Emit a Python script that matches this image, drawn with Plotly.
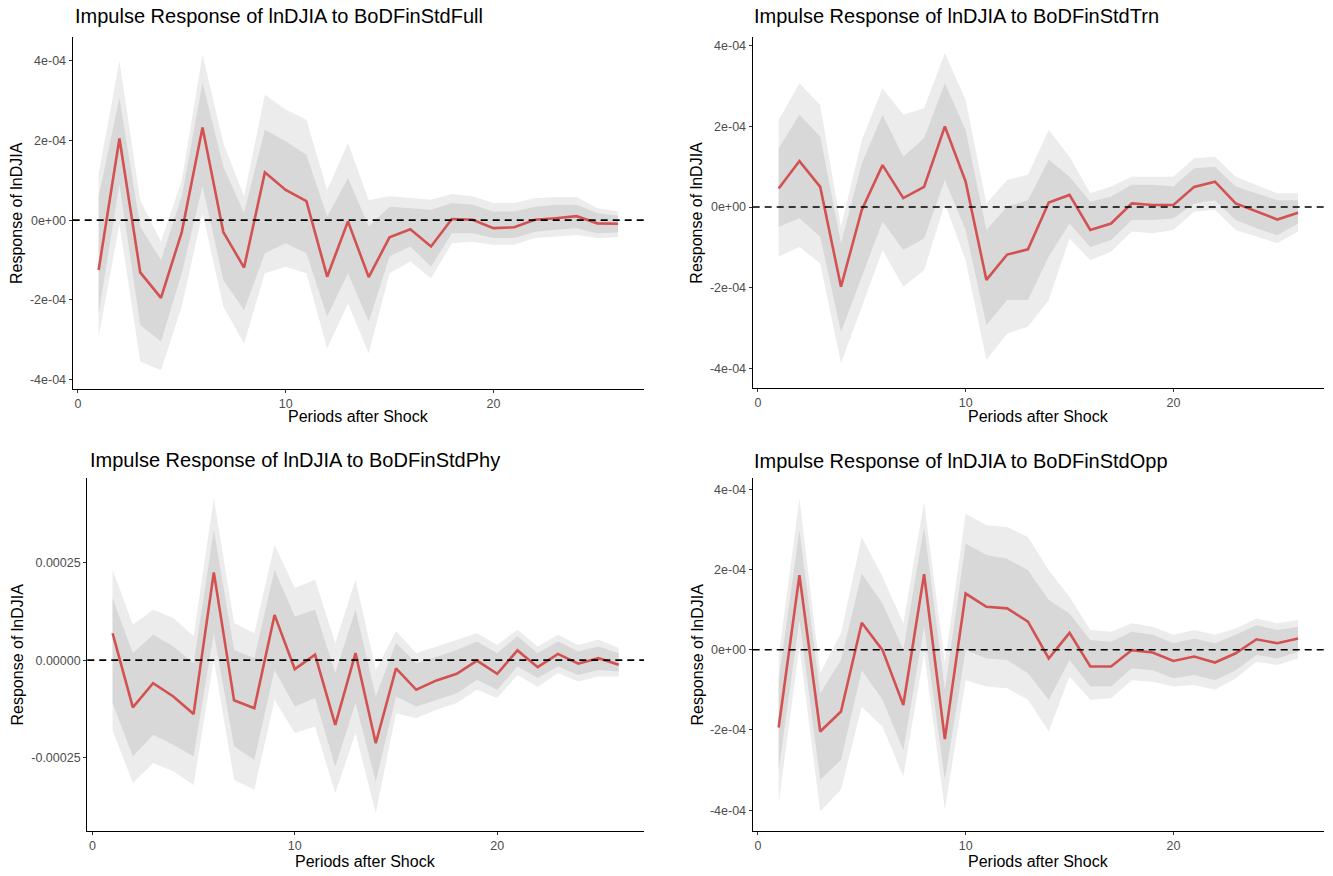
import plotly.graph_objects as go

# ---------------- data (response values in units of 1e-4) ----------------
periods = list(range(1, 27))

full_irf = [-1.25, 2.05, -1.31, -1.95, -0.3, 2.33, -0.3, -1.19, 1.2, 0.76, 0.48, -1.42, -0.03,
            -1.43, -0.43, -0.23, -0.66, 0.03, 0.01, -0.2, -0.18, 0.01, 0.05, 0.1, -0.08, -0.09]
full_dark_lo = [-2.34, 0.9, -2.63, -3.05, -1.33, 0.85, -1.5, -2.26, -0.83, -0.58, -0.83, -2.42, -1.33,
                -2.55, -0.91, -0.66, -1.17, -0.33, -0.33, -0.45, -0.45, -0.29, -0.24, -0.2, -0.33, -0.31]
full_dark_hi = [0.6, 3.07, -0.16, -1.0, 0.6, 3.45, 1.35, 0.18, 2.27, 1.98, 1.64, 0.09, 1.06,
                -0.16, 0.34, 0.3, 0.26, 0.43, 0.39, 0.22, 0.22, 0.34, 0.39, 0.39, 0.18, 0.11]
full_light_lo = [-2.93, -0.1, -3.55, -3.77, -2.17, 0.18, -2.17, -3.1, -1.33, -1.17, -1.33, -3.22, -2.09,
                 -3.35, -1.33, -1.04, -1.46, -0.58, -0.54, -0.62, -0.62, -0.45, -0.41, -0.37, -0.45, -0.43]
full_light_hi = [1.18, 4.0, 0.5, -0.54, 1.0, 4.16, 1.94, 0.6, 3.15, 2.78, 2.52, 0.76, 1.94,
                 0.5, 0.6, 0.55, 0.51, 0.66, 0.6, 0.43, 0.43, 0.55, 0.58, 0.58, 0.3, 0.22]

trn_irf = [0.46, 1.14, 0.5, -1.98, -0.07, 1.04, 0.22, 0.5, 2.0, 0.63, -1.81, -1.18, -1.05,
           0.11, 0.3, -0.57, -0.41, 0.09, 0.05, 0.05, 0.5, 0.63, 0.09, -0.12, -0.31, -0.14]
trn_dark_lo = [-0.49, -0.28, -0.74, -3.1, -1.73, -0.36, -1.07, -0.78, 0.67, -0.57, -2.93, -2.31, -2.31,
               -1.23, -0.41, -0.99, -0.82, -0.32, -0.32, -0.28, 0.09, 0.17, -0.32, -0.53, -0.7, -0.41]
trn_dark_hi = [1.46, 2.29, 1.75, -0.9, 1.08, 2.29, 1.25, 1.71, 3.07, 1.91, -0.57, 0.01, 0.17,
               1.17, 0.75, 0.13, 0.26, 0.55, 0.55, 0.51, 0.96, 1.0, 0.51, 0.34, 0.17, 0.17]
trn_light_lo = [-1.23, -0.99, -1.4, -3.88, -2.48, -1.07, -1.98, -1.57, 0.09, -1.32, -3.8, -3.14, -2.97,
                -2.31, -0.78, -1.32, -1.11, -0.61, -0.65, -0.57, -0.12, -0.07, -0.57, -0.74, -0.9, -0.61]
trn_light_hi = [2.16, 3.07, 2.53, -0.49, 1.66, 2.95, 2.29, 2.45, 3.82, 2.66, 0.09, 0.67, 0.8,
                1.91, 1.25, 0.34, 0.51, 0.75, 0.75, 0.75, 1.21, 1.25, 0.75, 0.55, 0.34, 0.34]

phy_irf = [0.69, -1.21, -0.59, -0.93, -1.38, 2.25, -1.03, -1.23, 1.16, -0.23, 0.14, -1.66, 0.18,
           -2.13, -0.21, -0.76, -0.52, -0.35, -0.01, -0.35, 0.25, -0.18, 0.16, -0.09, 0.05, -0.12]
phy_dark_lo = [-1.1, -2.47, -1.91, -2.17, -2.47, 0.69, -2.21, -2.56, -0.25, -1.19, -0.97, -2.73, -1.1,
               -3.11, -0.93, -1.19, -1.02, -0.85, -0.5, -0.76, -0.16, -0.46, -0.16, -0.38, -0.25, -0.29]
phy_dark_hi = [1.59, 0.18, 0.65, 0.35, -0.08, 3.34, 0.26, 0.05, 2.32, 1.12, 1.29, -0.33, 1.29,
               -0.93, 0.44, -0.08, 0.09, 0.26, 0.48, 0.18, 0.61, 0.18, 0.48, 0.22, 0.35, 0.18]
phy_light_lo = [-1.8, -3.15, -2.64, -2.85, -3.2, 0.01, -3.07, -3.32, -1.02, -1.87, -1.7, -3.41, -1.87,
                -3.92, -1.36, -1.49, -1.27, -1.1, -0.76, -0.97, -0.38, -0.68, -0.33, -0.55, -0.42, -0.42]
phy_light_hi = [2.32, 0.91, 1.29, 1.08, 0.61, 4.15, 0.95, 0.69, 2.96, 1.85, 2.06, 0.44, 2.06,
                -0.25, 0.74, 0.18, 0.35, 0.53, 0.69, 0.39, 0.78, 0.35, 0.65, 0.39, 0.53, 0.31]

opp_irf = [-1.94, 1.86, -2.04, -1.54, 0.67, -0.01, -1.38, 1.88, -2.23, 1.4, 1.07, 1.03, 0.7,
           -0.22, 0.42, -0.42, -0.42, -0.01, -0.07, -0.28, -0.17, -0.32, -0.09, 0.26, 0.16, 0.28]
opp_dark_lo = [-3.0, 0.74, -3.24, -2.75, -0.51, -1.25, -2.5, 0.57, -3.24, -0.01, -0.22, -0.26, -0.59,
               -1.25, -0.26, -0.92, -0.92, -0.46, -0.51, -0.71, -0.63, -0.76, -0.51, -0.13, -0.22, -0.05]
opp_dark_hi = [-0.76, 2.98, -1.09, -0.26, 1.9, 1.15, -0.01, 3.06, -1.0, 2.65, 2.36, 2.27, 1.98,
               1.24, 0.9, 0.24, 0.2, 0.45, 0.37, 0.16, 0.28, 0.16, 0.37, 0.61, 0.49, 0.57]
opp_light_lo = [-3.83, 0.07, -4.03, -3.49, -1.42, -1.92, -3.16, -0.09, -3.99, -0.76, -0.92, -0.96, -1.25,
                -2.04, -0.67, -1.25, -1.21, -0.76, -0.8, -0.92, -0.88, -1.0, -0.71, -0.3, -0.38, -0.22]
opp_light_hi = [-0.17, 3.77, -0.59, 0.41, 2.81, 1.82, 0.66, 3.68, -0.34, 3.39, 3.1, 3.06, 2.81,
                1.98, 1.32, 0.49, 0.45, 0.66, 0.57, 0.37, 0.49, 0.37, 0.53, 0.78, 0.66, 0.74]

titles = ["Impulse Response of lnDJIA to BoDFinStdFull",
          "Impulse Response of lnDJIA to BoDFinStdTrn",
          "Impulse Response of lnDJIA to BoDFinStdPhy",
          "Impulse Response of lnDJIA to BoDFinStdOpp"]
x_title = "Periods after Shock"
y_title = "Response of lnDJIA"

x_tickvals = [0, 10, 20]
sci_tickvals = [-4, -2, 0, 2, 4]
sci_ticktext = ["-4e-04", "-2e-04", "0e+00", "2e-04", "4e-04"]
dec_tickvals = [-2.5, 0, 2.5]
dec_ticktext = ["-0.00025", "0.00000", "0.00025"]

# ---------------- layout helpers ----------------
W, H = 1333, 876
FONT = "Liberation Sans, Arial, sans-serif"
LIGHT = "#ECECEC"
DARK = "#D8D8D8"
RED = "#D35151"


def px(x):
    return x / W


def py(y):
    return 1 - y / H


panels = [
    dict(irf=full_irf, dlo=full_dark_lo, dhi=full_dark_hi, llo=full_light_lo, lhi=full_light_hi,
         xpix=(72.7, 644), ypix=(37, 389), yrange=[-4.24, 4.6], tv=sci_tickvals, tt=sci_ticktext,
         title_xy=(73, 16), ytitle_x=17, xtitle_y=416),
    dict(irf=trn_irf, dlo=trn_dark_lo, dhi=trn_dark_hi, llo=trn_light_lo, lhi=trn_light_hi,
         xpix=(752.7, 1324), ypix=(37, 388.3), yrange=[-4.5, 4.22], tv=sci_tickvals, tt=sci_ticktext,
         title_xy=(752, 16), ytitle_x=697, xtitle_y=416),
    dict(irf=phy_irf, dlo=phy_dark_lo, dhi=phy_dark_hi, llo=phy_light_lo, lhi=phy_light_hi,
         xpix=(87.3, 644), ypix=(478, 831), yrange=[-4.38, 4.67], tv=dec_tickvals, tt=dec_ticktext,
         title_xy=(88, 460), ytitle_x=17, xtitle_y=861),
    dict(irf=opp_irf, dlo=opp_dark_lo, dhi=opp_dark_hi, llo=opp_light_lo, lhi=opp_light_hi,
         xpix=(752.7, 1324), ypix=(478, 831), yrange=[-4.52, 4.28], tv=sci_tickvals, tt=sci_ticktext,
         title_xy=(752, 461), ytitle_x=697, xtitle_y=861),
]

fig = go.Figure()
layout = dict(
    width=W, height=H, margin=dict(l=0, r=0, t=0, b=0),
    paper_bgcolor="white", plot_bgcolor="white", showlegend=False,
    font=dict(family=FONT, color="#000000"),
)
shapes = []
annotations = []

for i, p in enumerate(panels, start=1):
    xa = "x" if i == 1 else f"x{i}"
    ya = "y" if i == 1 else f"y{i}"
    common = dict(xaxis=xa, yaxis=ya, showlegend=False, hoverinfo="skip")
    fig.add_trace(go.Scatter(x=periods, y=p["llo"], mode="lines", line=dict(width=0, color=LIGHT), **common))
    fig.add_trace(go.Scatter(x=periods, y=p["lhi"], mode="lines", line=dict(width=0, color=LIGHT),
                             fill="tonexty", fillcolor=LIGHT, **common))
    fig.add_trace(go.Scatter(x=periods, y=p["dlo"], mode="lines", line=dict(width=0, color=DARK), **common))
    fig.add_trace(go.Scatter(x=periods, y=p["dhi"], mode="lines", line=dict(width=0, color=DARK),
                             fill="tonexty", fillcolor=DARK, **common))
    fig.add_trace(go.Scatter(x=periods, y=p["irf"], mode="lines", line=dict(width=2.6, color=RED),
                             xaxis=xa, yaxis=ya, showlegend=False))

    x0, x1 = p["xpix"]
    y0, y1 = p["ypix"]
    axis_common = dict(showline=True, linecolor="#000000", linewidth=1.3, mirror=False,
                       showgrid=False, zeroline=False, ticks="outside", ticklen=3,
                       tickcolor="#333333", tickwidth=1,
                       tickfont=dict(family=FONT, size=12.5, color="#4D4D4D"))
    layout["xaxis" if i == 1 else f"xaxis{i}"] = dict(
        domain=[px(x0), px(x1)], anchor=ya, range=[-0.25, 27.25],
        tickmode="array", tickvals=x_tickvals, **axis_common)
    layout["yaxis" if i == 1 else f"yaxis{i}"] = dict(
        domain=[py(y1), py(y0)], anchor=xa, range=p["yrange"],
        tickmode="array", tickvals=p["tv"], ticktext=p["tt"], **axis_common)

    shapes.append(dict(type="line", xref=f"{xa} domain", yref=ya, x0=0, x1=1, y0=0, y1=0,
                       line=dict(color="#000000", width=1.6, dash="7px,5px"), layer="above"))

    tx, ty = p["title_xy"]
    annotations.append(dict(text=titles[i - 1], xref="paper", yref="paper", x=px(tx), y=py(ty),
                            xanchor="left", yanchor="middle", showarrow=False,
                            font=dict(family=FONT, size=20, color="#000000")))
    annotations.append(dict(text=y_title, xref="paper", yref="paper", x=px(p["ytitle_x"]),
                            y=py((y0 + y1) / 2), xanchor="center", yanchor="middle", textangle=-90,
                            showarrow=False, font=dict(family=FONT, size=16, color="#000000")))
    annotations.append(dict(text=x_title, xref="paper", yref="paper", x=px((x0 + x1) / 2),
                            y=py(p["xtitle_y"]), xanchor="center", yanchor="middle",
                            showarrow=False, font=dict(family=FONT, size=16, color="#000000")))

layout["shapes"] = shapes
layout["annotations"] = annotations
fig.update_layout(**layout)

fig.write_html("out.html")
